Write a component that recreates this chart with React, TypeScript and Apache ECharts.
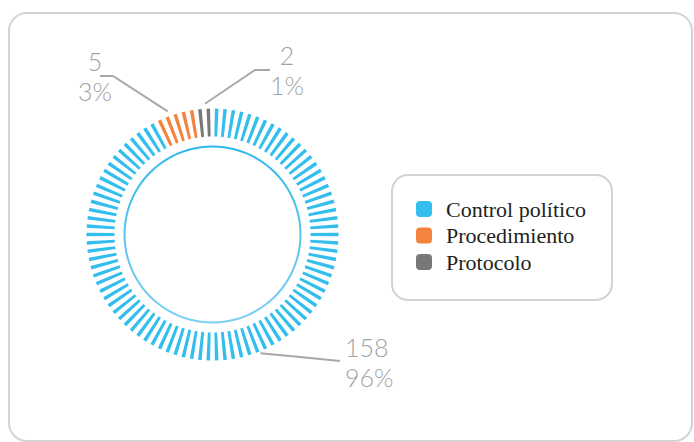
import React, { useEffect, useRef } from "react";
import * as echarts from "echarts";

// ---- Data ----
const categories = ["Control político", "Procedimiento", "Protocolo"];
const counts = [158, 5, 2];
// number of stripes drawn for each category in the ring
const stripes = [87, 5, 2];

// ---- Styles / layout (not data) ----
const colors = ["#33BEEE", "#F4833D", "#76787A"];
const CX = 212.5;
const CY = 234.5;
const R_IN = 98;
const R_OUT = 126;

// label guide layout for each category: start angle (deg, clockwise from top), start radius,
// bend point, end point, text anchor and alignment
const labelGuides = [
  { angle: 158, r: 128, bend: [300, 357], end: [340, 361], text: [345, 362], align: "left" },
  { angle: 340, r: 131, bend: [113, 76], end: [100, 76], text: [95, 76], align: "center" },
  { angle: 356.7, r: 131, bend: [255, 70], end: [270, 70], text: [287, 70], align: "center" },
];

export default function App() {
  const ref = useRef<HTMLDivElement>(null);

  useEffect(() => {
    if (!ref.current) return;
    const chart = echarts.init(ref.current, undefined, { renderer: "svg" });

    const unitData: any[] = [];
    categories.forEach((name, i) => {
      for (let k = 0; k < stripes[i]; k++) {
        unitData.push({ name, value: 1, itemStyle: { color: colors[i] } });
      }
    });

    const total = counts.reduce((a, b) => a + b, 0);

    const option: any = {
      animation: false,
      backgroundColor: "#ffffff",
      graphic: [
        {
          type: "rect",
          shape: { x: 9, y: 13, width: 683, height: 428, r: 18 },
          style: { fill: "none", stroke: "#d3d3d3", lineWidth: 2 },
          silent: true,
          z: -1,
        },
      ],
      legend: {
        orient: "vertical",
        left: 392,
        top: 175,
        padding: [23, 26, 27, 24],
        backgroundColor: "#ffffff",
        borderColor: "#d3d3d3",
        borderWidth: 2,
        borderRadius: 16,
        itemWidth: 16,
        itemHeight: 16,
        itemGap: 4.5,
        icon: "roundRect",
        selectedMode: false,
        textStyle: {
          fontFamily: "Liberation Serif",
          fontSize: 22,
          lineHeight: 20,
          color: "#231f20",
          padding: [0, 0, 0, 9],
        },
        data: categories.map((name, i) => ({ name, itemStyle: { color: colors[i] } })),
      },
      series: [
        {
          type: "pie",
          name: "units",
          center: [CX, CY],
          radius: [R_IN, R_OUT],
          startAngle: 90,
          clockwise: true,
          padAngle: 2.2,
          silent: true,
          label: { show: false },
          labelLine: { show: false },
          emphasis: { disabled: true },
          itemStyle: { borderWidth: 0 },
          data: unitData,
        },
        {
          type: "pie",
          name: "labels",
          center: [CX, CY],
          radius: [R_IN, R_OUT],
          startAngle: 90,
          clockwise: true,
          silent: true,
          avoidLabelOverlap: false,
          emphasis: { disabled: true },
          itemStyle: { color: "rgba(0,0,0,0)", borderWidth: 0 },
          label: {
            show: true,
            position: "outside",
            fontFamily: "Lato",
            fontWeight: 300,
            fontSize: 25,
            lineHeight: 30,
            color: "#a2a2a2",
            formatter: (p: any) => `${p.value}\n${Math.round((p.value / total) * 100)}%`,
          },
          labelLine: {
            show: true,
            length: 20,
            length2: 15,
            lineStyle: { color: "#a8a8a8", width: 2 },
          },
          labelLayout: (params: any) => {
            const g = labelGuides[params.dataIndex];
            const a = (g.angle * Math.PI) / 180;
            const start = [CX + g.r * Math.sin(a), CY - g.r * Math.cos(a)];
            return {
              x: g.text[0],
              y: g.text[1],
              align: g.align,
              verticalAlign: "middle",
              labelLinePoints: [start, g.bend, g.end],
            };
          },
          data: categories.map((name, i) => ({ name, value: counts[i] })),
        },
        {
          type: "pie",
          name: "inner",
          center: [CX, CY],
          radius: [87, 89],
          silent: true,
          label: { show: false },
          labelLine: { show: false },
          emphasis: { disabled: true },
          itemStyle: {
            color: new echarts.graphic.LinearGradient(0, 0, 0, 1, [
              { offset: 0, color: "#2fb9ec" },
              { offset: 1, color: "#7dcff1" },
            ]),
          },
          data: [{ name: "inner", value: 1 }],
        },
      ],
    };

    chart.setOption(option);
    return () => chart.dispose();
  }, []);

  return (
    <div
      ref={ref}
      style={{ position: "fixed", left: 0, top: 0, width: 694, height: 442 }}
    />
  );
}
